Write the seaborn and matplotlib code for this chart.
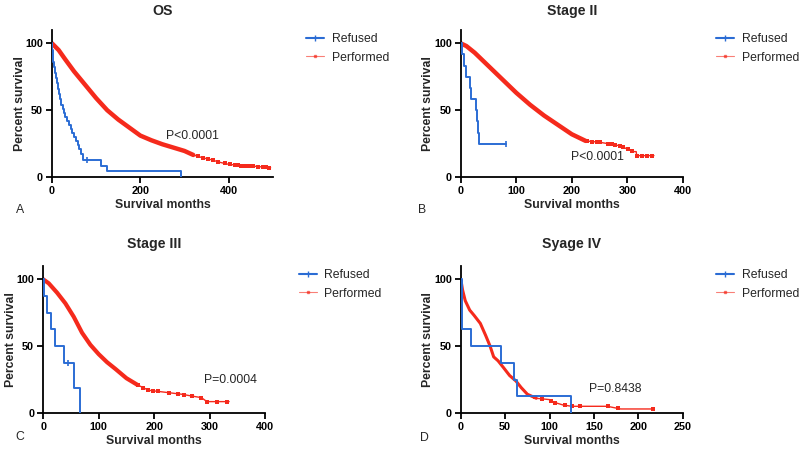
import numpy as np
import matplotlib
matplotlib.use("Agg")
import matplotlib.pyplot as plt
from matplotlib.lines import Line2D
import seaborn as sns

# ------------------- values -------------------
# OS
os_ref_t = [0, 1, 2, 3, 5, 7, 9, 11, 13, 15, 18, 21, 24, 27, 30, 34, 38, 42, 46, 50, 54, 58, 62, 66, 71, 110, 125, 292]
os_ref_s = [100, 95, 90, 86, 82, 78, 74, 70, 66, 62, 58, 54, 51, 48, 45, 42, 39, 36, 33, 30, 27, 24, 21, 17, 12.5, 8.3, 4.2, 0]
os_ref_cens = [80]
os_perf_t = [0, 15, 30, 50, 75, 100, 125, 150, 175, 200, 225, 250, 275, 300, 320, 340, 360, 380, 400, 430, 460, 495]
os_perf_s = [100, 95, 88, 79, 69, 59, 50, 43, 37, 31, 27.5, 24.5, 22, 19.5, 16.5, 14.5, 13, 11, 9.5, 8.5, 8, 7]
os_perf_cens = [331, 342, 353, 365, 376, 391, 402, 414, 421, 429, 436, 447, 455, 466, 477, 485, 492]

# Stage II
s2_ref_t = [0, 2, 6, 10, 17, 19, 27, 29, 31, 33, 82]
s2_ref_s = [100, 91.7, 83.3, 75, 66.7, 58.3, 50, 41.7, 33.3, 25, 25]
s2_ref_cens = [82]
s2_perf_t = [0, 10, 25, 50, 75, 100, 125, 150, 175, 200, 225, 250, 265, 285, 300, 310, 316, 317, 348]
s2_perf_s = [100, 98, 93, 83, 73, 63, 54, 46, 39, 32, 27, 26, 25, 23.5, 21, 19, 19, 16, 16]
s2_perf_cens = [227, 236, 245, 251, 266, 272, 278, 287, 293, 302, 308, 317, 326, 335, 344]

# Stage III
s3_ref_t = [0, 2, 6, 14, 22, 38, 56, 66]
s3_ref_s = [100, 87.5, 75, 62.5, 50, 37.5, 18.75, 0]
s3_ref_cens = [44]
s3_perf_t = [0, 10, 25, 40, 55, 70, 85, 100, 115, 130, 150, 170, 190, 210, 230, 250, 270, 285, 295, 335]
s3_perf_s = [100, 97, 90, 82, 72, 60, 51, 44, 38, 33, 26, 21, 17, 16, 15, 14, 12.5, 11.5, 8.5, 8.5]
s3_perf_cens = [171, 180, 189, 198, 207, 227, 242, 254, 269, 284, 296, 314, 332]

# Stage IV
s4_ref_t = [0, 0.8, 12, 45, 60, 63, 124]
s4_ref_s = [100, 62.5, 50, 37.5, 25, 12.5, 0]
s4_ref_cens = []
s4_perf_t = [0, 2, 5, 10, 15, 22, 28, 33, 37, 42, 48, 55, 62, 68, 75, 85, 100, 105, 115, 125, 165, 180, 218]
s4_perf_s = [100, 92, 84, 77, 73, 67, 58, 50, 42, 39, 34, 28, 24, 19, 14, 11, 10, 8, 6, 5, 5, 3, 3]
s4_perf_cens = [83, 91, 102, 106, 117, 125, 134, 166, 177, 217]

titles = ["OS", "Stage II", "Stage III", "Syage IV"]
p_texts = ["P<0.0001", "P<0.0001", "P=0.0004", "P=0.8438"]
panel_letters = ["A", "B", "C", "D"]
x_ticks = [[0, 200, 400], [0, 100, 200, 300, 400], [0, 100, 200, 300, 400], [0, 50, 100, 150, 200, 250]]
y_ticks = [0, 50, 100]

BLUE = "#2b6cd4"
RED = "#f52a1c"

sns.set_style("ticks")
plt.rcParams["font.family"] = ["Liberation Sans", "DejaVu Sans"]

fig = plt.figure(figsize=(8, 4.51), dpi=100)

panels = [
    dict(rect=[0.065, 0.6075, 0.276, 0.326], xlim=500, ref=(os_ref_t, os_ref_s, os_ref_cens),
         perf=(os_perf_t, os_perf_s, os_perf_cens), dense=330, lw=3.2, p=(258, 31),
         letter=(20, 210), tpad=11),
    dict(rect=[0.576, 0.6075, 0.2775, 0.326], xlim=400, ref=(s2_ref_t, s2_ref_s, s2_ref_cens),
         perf=(s2_perf_t, s2_perf_s, s2_perf_cens), dense=225, lw=3.2, p=(198, 15),
         letter=(422, 210), tpad=11),
    dict(rect=[0.054, 0.0843, 0.2775, 0.326], xlim=400, ref=(s3_ref_t, s3_ref_s, s3_ref_cens),
         perf=(s3_perf_t, s3_perf_s, s3_perf_cens), dense=180, lw=3.0, p=(290, 24.5),
         letter=(20, 437), tpad=13),
    dict(rect=[0.576, 0.0843, 0.2775, 0.326], xlim=250, ref=(s4_ref_t, s4_ref_s, s4_ref_cens),
         perf=(s4_perf_t, s4_perf_s, s4_perf_cens), dense=85, lw=2.2, p=(144, 18),
         letter=(424, 438), tpad=13),
]

for i, pn in enumerate(panels):
    ax = fig.add_axes(pn["rect"])
    rt, rs, rc = pn["ref"]
    pt, ps, pc = pn["perf"]
    pt_a, ps_a = np.array(pt), np.array(ps)

    # performed: thin line over whole range, thick where censor ticks are dense
    sns.lineplot(x=pt, y=ps, ax=ax, color=RED, lw=1.0, estimator=None, sort=False, legend=False)
    keep = pt_a <= pn["dense"]
    sns.lineplot(x=pt_a[keep], y=ps_a[keep], ax=ax, color=RED, lw=pn["lw"], estimator=None,
                 sort=False, legend=False)
    sns.scatterplot(x=pc, y=np.interp(pc, pt, ps), ax=ax, color=RED, marker="s", s=5,
                    linewidth=0, legend=False, zorder=3)

    # refused: Kaplan-Meier steps
    sns.lineplot(x=rt, y=rs, ax=ax, color=BLUE, lw=1.4, estimator=None, sort=False,
                 drawstyle="steps-post", legend=False, zorder=4)
    if rc:
        idx = np.searchsorted(rt, rc, side="right") - 1
        sns.scatterplot(x=rc, y=np.array(rs)[idx], ax=ax, color=BLUE, marker="|", s=18,
                        linewidth=1.2, legend=False, zorder=5)

    ax.set_xlim(0, pn["xlim"])
    ax.set_ylim(0, 110)
    ax.set_xticks(x_ticks[i])
    ax.set_yticks(y_ticks)
    sns.despine(ax=ax)
    for sp in ("left", "bottom"):
        ax.spines[sp].set_linewidth(1.3)
        ax.spines[sp].set_color("black")
    ax.tick_params(axis="both", length=4, width=1.3, labelsize=7.8, pad=2.5, colors="black")
    for lab in ax.get_xticklabels() + ax.get_yticklabels():
        lab.set_fontweight("bold")

    ax.set_title(titles[i], fontsize=10.2, fontweight="bold", pad=pn["tpad"])
    ax.set_xlabel("Survival months", fontsize=8.8, fontweight="bold", labelpad=2)
    ax.set_ylabel("Percent survival", fontsize=8.8, fontweight="bold", labelpad=-0.3)
    ax.text(pn["p"][0], pn["p"][1], p_texts[i], fontsize=8.8, va="center", ha="left")

    handles = [Line2D([], [], color=BLUE, lw=1.5, marker="|", markersize=4),
               Line2D([], [], color=RED, lw=0.8, alpha=0.6, marker="s", markersize=2)]
    ax.legend(handles, ["Refused", "Performed"], loc="upper left", bbox_to_anchor=(1.15, 0.98),
              frameon=False, fontsize=8.8, handlelength=1.5, handletextpad=0.6,
              labelspacing=0.55, borderpad=0, borderaxespad=0)

    fig.text(pn["letter"][0] / 800, 1 - pn["letter"][1] / 451, panel_letters[i],
             fontsize=8.8, va="center", ha="center")

fig.savefig("out.png", dpi=100)
